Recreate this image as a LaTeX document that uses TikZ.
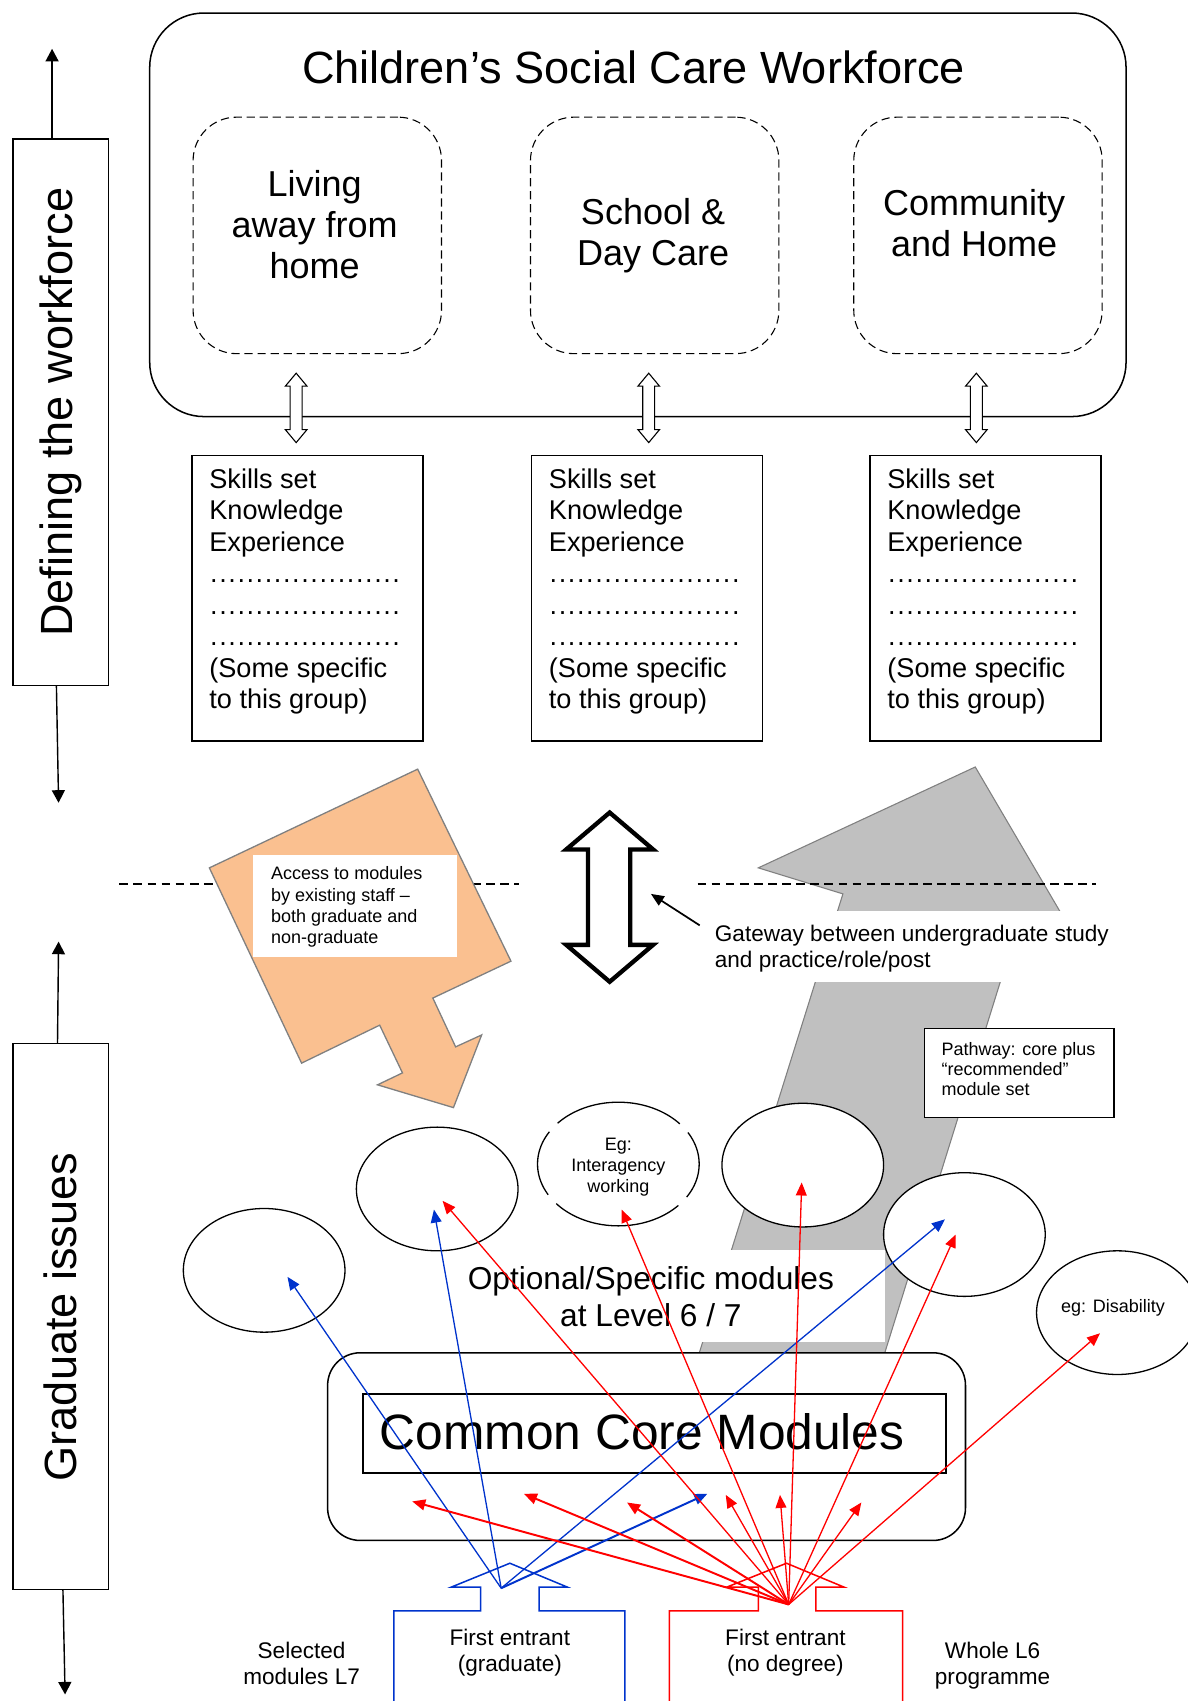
\documentclass[tikz,border=0pt]{standalone}
\usepackage{fontspec}
\setmainfont{Liberation Sans}
\usetikzlibrary{shapes.geometric,arrows.meta,positioning}
\definecolor{peach}{HTML}{FAC090}
\definecolor{shaftgray}{HTML}{C0C0C0}
\definecolor{rim}{HTML}{808080}
\definecolor{entryblue}{HTML}{0033CC}
\newcommand{\skilldots}{\hbox to 88.2pt{\xleaders\hbox to 4.2pt{\hss.\hss}\hfill}}
\begin{document}
\begin{tikzpicture}[
        x=0.5pt, y=-0.5pt,
        every node/.style={inner sep=0pt, outer sep=0pt},
        hugetxt/.style={font=\fontsize{20.8pt}{24pt}\selectfont},
        grouptxt/.style={font=\fontsize{16.6pt}{19pt}\selectfont, align=center},
        skilltxt/.style={font=\fontsize{12.5pt}{14.5pt}\selectfont, align=left},
        medtxt/.style={font=\fontsize{10.4pt}{12pt}\selectfont, align=center},
        tinytxt/.style={font=\fontsize{8.3pt}{9.6pt}\selectfont, align=left},
        outerbox/.style={draw, line width=0.7pt, rounded corners=25pt, minimum width=450pt, minimum height=186pt},
        groupbox/.style={draw, line width=0.5pt, dash pattern=on 3.8pt off 2.2pt, rounded corners=20pt, minimum width=114.5pt, minimum height=109pt},
        skillbox/.style={draw, line width=0.6pt, minimum width=106.5pt, minimum height=131.5pt},
        sidebox/.style={draw, line width=0.6pt, minimum width=44pt},
        whitebox/.style={fill=white},
        module/.style={ellipse, draw, fill=white, line width=0.6pt, minimum width=74.5pt, minimum height=57pt},
        gapped/.style={dash pattern=on 31.4pt off 5.5pt on 60.9pt off 5.5pt, dash phase=15.7pt},
        divider/.style={line width=0.6pt, dash pattern=on 4pt off 2.5pt},
        hollow/.style={draw, fill=white, line width=0.5pt, line join=miter},
        sidearrow/.style={line width=0.65pt, -{Triangle[length=5.8pt, width=6pt]}},
        bluecon/.style={draw=entryblue, line width=0.6pt, -{Triangle[length=6pt, width=5pt]}},
        redcon/.style={draw=red, line width=0.6pt, -{Triangle[length=6pt, width=5pt]}},
        heavy/.style={line width=0.9pt},
    ]
    \useasboundingbox (0,0) rectangle (1095,1568);
    \clip (0,0) rectangle (1095,1568);

    \node[sidebox, minimum height=252pt] (defbox) at (56,380) {};
    \node[hugetxt, rotate=90] (deftxt) at (56,380) {Defining the workforce};
    \node[sidebox, minimum height=251.5pt] (gradbox) at (56,1213.5) {};
    \node[hugetxt, rotate=90] (gradtxt) at (56,1214) {Graduate issues};
    \coordinate (defup) at (48,45);
    \coordinate (defdown) at (54,740);
    \coordinate (gradup) at (54,868);
    \coordinate (graddown) at (60,1562);
    \draw[sidearrow] ([xshift=-4pt]defbox.north) -- (defup);
    \draw[sidearrow] ([xshift=-2pt]defbox.south) -- (defdown);
    \draw[sidearrow] ([xshift=-1.5pt]gradbox.north) -- (gradup);
    \draw[sidearrow] ([xshift=1pt]gradbox.south) -- (graddown);

    \node[outerbox] (csc) at (588,198) {};
    \node[hugetxt] (csctitle) at (584,62) {Children’s Social Care Workforce};
    \node[groupbox] (away) at (292.5,217) {};
    \node[groupbox] (school) at (603.5,217) {};
    \node[groupbox] (community) at (901.5,217) {};
    \node[grouptxt] (awaytxt) at (290,207) {Living\\away from\\home};
    \node[grouptxt] (schooltxt) at (602,217.5) {School \&\\Day Care};
    \node[grouptxt] (communitytxt) at (898,206) {Community\\and Home};

    \foreach \cx in {273,598,900}
        \draw[hollow] (\cx,344) -- (\cx+10,356) -- (\cx+5.5,356) -- (\cx+5.5,396) -- (\cx+10,396) -- (\cx,408)
            -- (\cx-10,396) -- (\cx-5.5,396) -- (\cx-5.5,356) -- (\cx-10,356) -- cycle;

    \node[skillbox] (skillsA) at (283.5,551.5) {};
    \node[skillbox] (skillsB) at (596.5,551.5) {};
    \node[skillbox] (skillsC) at (908.5,551.5) {};
    \node[skilltxt, below right=6pt and 8pt of skillsA.north west] (skillsAtxt) {Skills set\\Knowledge\\Experience\\\skilldots\\\skilldots\\\skilldots\\(Some specific\\to this group)};
    \node[skilltxt, below right=6pt and 8pt of skillsB.north west] (skillsBtxt) {Skills set\\Knowledge\\Experience\\\skilldots\\\skilldots\\\skilldots\\(Some specific\\to this group)};
    \node[skilltxt, below right=6pt and 8pt of skillsC.north west] (skillsCtxt) {Skills set\\Knowledge\\Experience\\\skilldots\\\skilldots\\\skilldots\\(Some specific\\to this group)};

    \draw[divider] (110,815) -- (478,815);
    \draw[draw=rim, fill=peach, line width=0.6pt, line join=miter] (385,709) -- (193,800) -- (278,980) -- (350,945) -- (371,989) -- (348,1000)
        -- (418,1021) -- (444,954) -- (420,965) -- (399,920) -- (471,886) -- cycle;
    \node[whitebox, minimum width=94pt, minimum height=47pt] (accbox) at (327,835) {};
    \node[tinytxt, font=\fontsize{8.3pt}{9.85pt}\selectfont, below right=5.5pt and 8.5pt of accbox.north west] (acctxt) {Access to modules\\by existing staff –\\both graduate and\\non-graduate};

    \draw[draw=rim, fill=shaftgray, line width=0.5pt] (899,707) -- (984,852) -- (933,870) -- (810,1265) -- (639,1265) -- (777,824) -- (699,800) -- cycle;
    \draw[divider] (643,815) -- (1010,815);
    \node[whitebox, minimum width=191.5pt, minimum height=32.5pt] (gatebox) at (843.5,872.5) {};
    \node[medtxt, align=left, below right=6.5pt and 3.5pt of gatebox.north west] (gatetxt) {Gateway between undergraduate study\\and practice/role/post};
    \coordinate (gatetip) at (600,824);
    \draw[line width=0.8pt, -{Triangle[length=6pt, width=5pt]}] ([xshift=-7pt]gatetxt.north west) -- (gatetip);
    \draw[line width=2pt, line join=miter] (562,749) -- (602,783) -- (581,783) -- (581,871) -- (602,871) -- (562,905)
        -- (522,871) -- (542,871) -- (542,783) -- (522,783) -- cycle;

    \node[whitebox, minimum width=216pt, minimum height=42.5pt] (optbox) at (600,1194.5) {};
    \node[font=\fontsize{14.6pt}{17pt}\selectfont, align=center] (opttxt) at (600,1195) {Optional/Specific modules\\at Level 6 / 7};
    \node[draw, fill=white, line width=0.6pt, minimum width=87.5pt, minimum height=41pt] (pathbox) at (939.5,989) {};
    \node[tinytxt, font=\fontsize{8.3pt}{9.25pt}\selectfont, below right=6.5pt and 8pt of pathbox.north west] (pathtxt) {Pathway: core plus\\“recommended”\\module set};

    \node[module] (modA) at (243.5,1171) {};
    \node[module] (modB) at (403,1096) {};
    \node[module, gapped] (modC) at (570,1073) {};
    \node[tinytxt, font=\fontsize{8.3pt}{9.5pt}\selectfont, align=center] (modCtxt) at (570,1076) {Eg:\\Interagency\\working};
    \node[module] (modD) at (740,1074) {};
    \node[module] (modE) at (889,1138) {};
    \node[module] (modF) at (1030,1210) {};
    \node[tinytxt] (modFtxt) at (1026,1206) {eg: Disability};

    \node[draw, fill=white, line width=0.7pt, rounded corners=15pt, minimum width=294pt, minimum height=86.5pt] (core) at (596,1333.5) {};
    \node[draw, line width=0.9pt, minimum width=268.5pt, minimum height=36.5pt] (coreinner) at (603.5,1321.5) {};
    \node[font=\fontsize{22.9pt}{26pt}\selectfont] (coretxt) at (592,1320) {Common Core Modules};

    \draw[entryblue, line width=0.7pt] (363,1580) -- (363,1485) -- (443,1485) -- (443,1463) -- (416,1463) -- (470,1441)
        -- (523,1463) -- (497,1463) -- (497,1485) -- (576,1485) -- (576,1580);
    \draw[red, line width=0.7pt] (617,1580) -- (617,1485) -- (699,1485) -- (699,1463) -- (670,1463) -- (725,1441)
        -- (778,1463) -- (752,1463) -- (752,1485) -- (832,1485) -- (832,1580);
    \node[medtxt] (gradentry) at (470,1523) {First entrant\\(graduate)};
    \node[medtxt] (nodegentry) at (724,1523) {First entrant\\(no degree)};
    \node[medtxt] (l7txt) at (278,1533) {Selected\\modules L7};
    \node[medtxt] (l6txt) at (915,1535) {Whole L6\\programme};

    \coordinate (gradhub) at (462,1464);
    \coordinate (nodeghub) at (727,1479);
    \coordinate (bA) at (265,1177);
    \coordinate (bB) at (400,1115);
    \coordinate (bC) at (871,1124);
    \coordinate (bD) at (652,1377);
    \coordinate (rA) at (408,1107);
    \coordinate (rB) at (573,1115);
    \coordinate (rC) at (739,1090);
    \coordinate (rD) at (881,1138);
    \coordinate (rE) at (1014,1229);
    \coordinate (rF) at (380,1384);
    \coordinate (rG) at (483,1377);
    \coordinate (rH) at (578,1385);
    \coordinate (rI) at (669,1378);
    \coordinate (rJ) at (719,1378);
    \coordinate (rK) at (794,1385);
    \draw[bluecon] (gradhub) -- (bA);
    \draw[bluecon] (gradhub) -- (bB);
    \draw[bluecon] (gradhub) -- (bC);
    \draw[bluecon, heavy] (gradhub) -- (bD);
    \draw[redcon] (nodeghub) -- (rA);
    \draw[redcon] (nodeghub) -- (rB);
    \draw[redcon] (nodeghub) -- (rC);
    \draw[redcon] (nodeghub) -- (rD);
    \draw[redcon] (nodeghub) -- (rE);
    \draw[redcon, heavy] (nodeghub) -- (rF);
    \draw[redcon, heavy] (nodeghub) -- (rG);
    \draw[redcon, heavy] (nodeghub) -- (rH);
    \draw[redcon] (nodeghub) -- (rI);
    \draw[redcon] (nodeghub) -- (rJ);
    \draw[redcon] (nodeghub) -- (rK);
\end{tikzpicture}
\end{document}
